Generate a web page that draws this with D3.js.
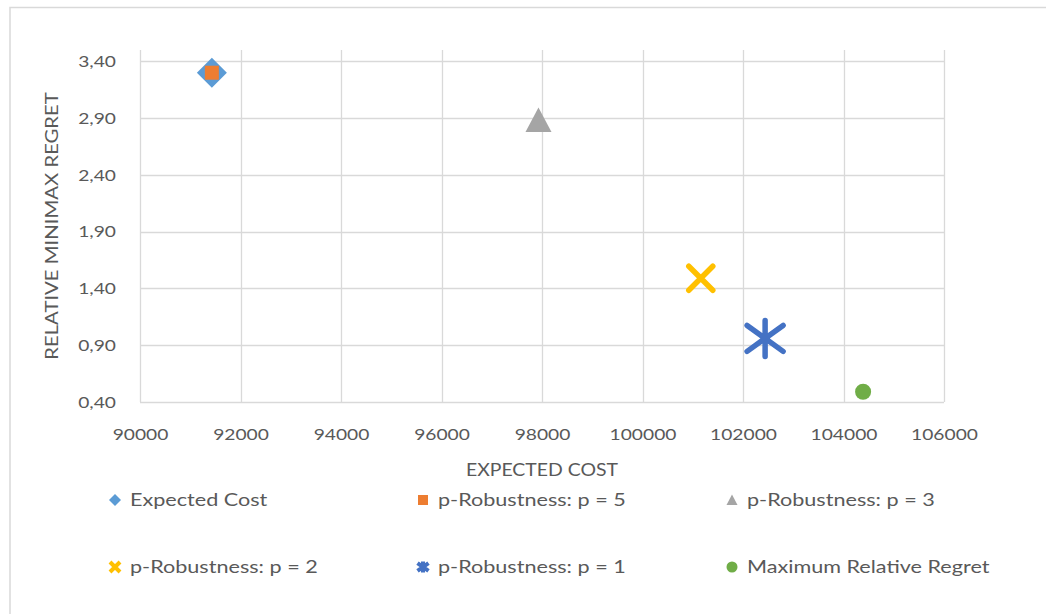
<!DOCTYPE html>
<html>
<head>
<meta charset="utf-8">
<script src="https://cdn.jsdelivr.net/npm/d3@7"></script>
<style>
  body { margin: 0; background: #fff; }
  text { font-family: Lato, "Liberation Sans", sans-serif; fill: #595959; }
</style>
</head>
<body>
<div id="chartContainer"></div>
<script>
// Data
const seriesNames = ['Expected Cost', 'p-Robustness: p = 5', 'p-Robustness: p = 3',
  'p-Robustness: p = 2', 'p-Robustness: p = 1', 'Maximum Relative Regret'];
const expectedCost = [91430, 91430, 97930, 101160, 102440, 104390];
const minimaxRegret = [3.30, 3.30, 2.88, 1.49, 0.96, 0.49];
const seriesColors = ['#5B9BD5', '#ED7D31', '#A5A5A5', '#FFC000', '#4472C4', '#70AD47'];
const seriesMarkers = ['diamond', 'square', 'triangle', 'x', 'star', 'circle'];
const xTickValues = [90000, 92000, 94000, 96000, 98000, 100000, 102000, 104000, 106000];
const yTickValues = [0.40, 0.90, 1.40, 1.90, 2.40, 2.90, 3.40];

const width = 1054;
const height = 614;
const plot = { left: 140, right: 944, top: 50, bottom: 402 };

const svg = d3
  .select('#chartContainer')
  .append('svg')
  .attr('width', width)
  .attr('height', height);

// the Excel text is drawn wider than Lato, stretch it a bit
function stretch(sel, k) {
  sel.each(function() {
    const len = this.getComputedTextLength();
    d3.select(this)
      .attr('textLength', len * k)
      .attr('lengthAdjust', 'spacingAndGlyphs');
  });
}

// outer chart border (only top and left are visible in the shot)
svg.append('path')
  .attr('d', 'M10,' + (height + 5) + 'V7.5H1046')
  .attr('fill', 'none')
  .attr('stroke', '#d9d9d9')
  .attr('stroke-width', 1.5);

const x = d3.scaleLinear().domain([90000, 106000]).range([plot.left, plot.right]);
const y = d3.scaleLinear().domain([0.4, 3.5]).range([plot.bottom, plot.top]);

const fmtY = v => d3.format('.2f')(v).replace('.', ',');

// gridlines
svg.append('g')
  .selectAll('line')
  .data(xTickValues)
  .enter()
  .append('line')
  .attr('x1', d => Math.round(x(d)) + 0.5)
  .attr('x2', d => Math.round(x(d)) + 0.5)
  .attr('y1', plot.top)
  .attr('y2', plot.bottom)
  .attr('stroke', '#d9d9d9')
  .attr('stroke-width', 1.3);

svg.append('g')
  .selectAll('line')
  .data(yTickValues)
  .enter()
  .append('line')
  .attr('x1', plot.left)
  .attr('x2', plot.right)
  .attr('y1', d => Math.round(y(d)) + 0.5)
  .attr('y2', d => Math.round(y(d)) + 0.5)
  .attr('stroke', '#d9d9d9')
  .attr('stroke-width', 1.3);

// axes (labels only, Excel style)
const xAxis = d3.axisBottom(x).tickValues(xTickValues).tickSize(0).tickPadding(27).tickFormat(d3.format('d'));
const yAxis = d3.axisLeft(y).tickValues(yTickValues).tickSize(0).tickPadding(24).tickFormat(fmtY);

svg.append('g')
  .attr('class', 'x axis')
  .attr('transform', `translate(0,${plot.bottom})`)
  .call(xAxis)
  .call(g => g.select('.domain').remove())
  .selectAll('text')
  .style('font-size', '16px')
  .style('font-family', 'Lato, sans-serif')
  .attr('fill', '#595959')
  .call(stretch, 1.2);

svg.append('g')
  .attr('class', 'y axis')
  .attr('transform', `translate(${plot.left},0)`)
  .call(yAxis)
  .call(g => g.select('.domain').remove())
  .selectAll('text')
  .style('font-size', '16px')
  .style('font-family', 'Lato, sans-serif')
  .attr('fill', '#595959')
  .call(stretch, 1.2);

// axis titles
svg.append('text')
  .attr('x', (plot.left + plot.right) / 2)
  .attr('y', 476)
  .attr('text-anchor', 'middle')
  .style('font-size', '17.5px')
  .text('EXPECTED COST')
  .call(stretch, 1.11);

svg.append('text')
  .attr('transform', `translate(58,${(plot.top + plot.bottom) / 2}) rotate(-90)`)
  .attr('text-anchor', 'middle')
  .style('font-size', '17.5px')
  .text('RELATIVE MINIMAX REGRET')
  .call(stretch, 1.16);

// marker shapes
function markerPath(type, s) {
  const h = s / 2;
  switch (type) {
    case 'diamond': return `M0,${-h}L${h},0L0,${h}L${-h},0Z`;
    case 'square': return `M${-h},${-h}H${h}V${h}H${-h}Z`;
    case 'triangle': return `M0,${-h}L${h},${h * 0.9}L${-h},${h * 0.9}Z`;
    case 'x': return `M${-h},${-h}L${h},${h}M${h},${-h}L${-h},${h}`;
    case 'star': return `M0,${-h}V${h}M${-h},${-h * 0.72}L${h},${h * 0.72}M${h},${-h * 0.72}L${-h},${h * 0.72}`;
    case 'circle': return d3.arc()({ innerRadius: 0, outerRadius: h, startAngle: 0, endAngle: 2 * Math.PI });
  }
}
const isLine = t => t === 'x' || t === 'star';

const plotSizes = { diamond: 30, square: 14, triangle: 26, x: 24, star: 36, circle: 16 };
const legendSizes = { diamond: 12, square: 10, triangle: 11, x: 10, star: 11, circle: 11 };

const points = seriesNames.map((name, i) => ({
  name, cost: expectedCost[i], regret: minimaxRegret[i], color: seriesColors[i], marker: seriesMarkers[i]
}));

svg.append('g')
  .selectAll('path')
  .data(points)
  .enter()
  .append('path')
  .attr('transform', d => `translate(${x(d.cost)},${y(d.regret)})`)
  .attr('d', d => markerPath(d.marker, plotSizes[d.marker]))
  .attr('fill', d => isLine(d.marker) ? 'none' : d.color)
  .attr('stroke', d => isLine(d.marker) ? d.color : 'none')
  .attr('stroke-width', 5.5)
  .attr('stroke-linecap', 'round');

// legend
const legendCols = [115, 423, 732];
const legendRows = [500, 567];

const legend = svg.append('g')
  .selectAll('g')
  .data(points)
  .enter()
  .append('g')
  .attr('transform', (d, i) => `translate(${legendCols[i % 3]},${legendRows[Math.floor(i / 3)]})`);

legend.append('path')
  .attr('d', d => markerPath(d.marker, legendSizes[d.marker]))
  .attr('fill', d => isLine(d.marker) ? 'none' : d.color)
  .attr('stroke', d => isLine(d.marker) ? d.color : 'none')
  .attr('stroke-width', 4);

legend.append('text')
  .attr('x', 15)
  .attr('dy', '0.36em')
  .style('font-size', '18px')
  .text(d => d.name)
  .call(stretch, 1.2);
</script>
</body>
</html>
